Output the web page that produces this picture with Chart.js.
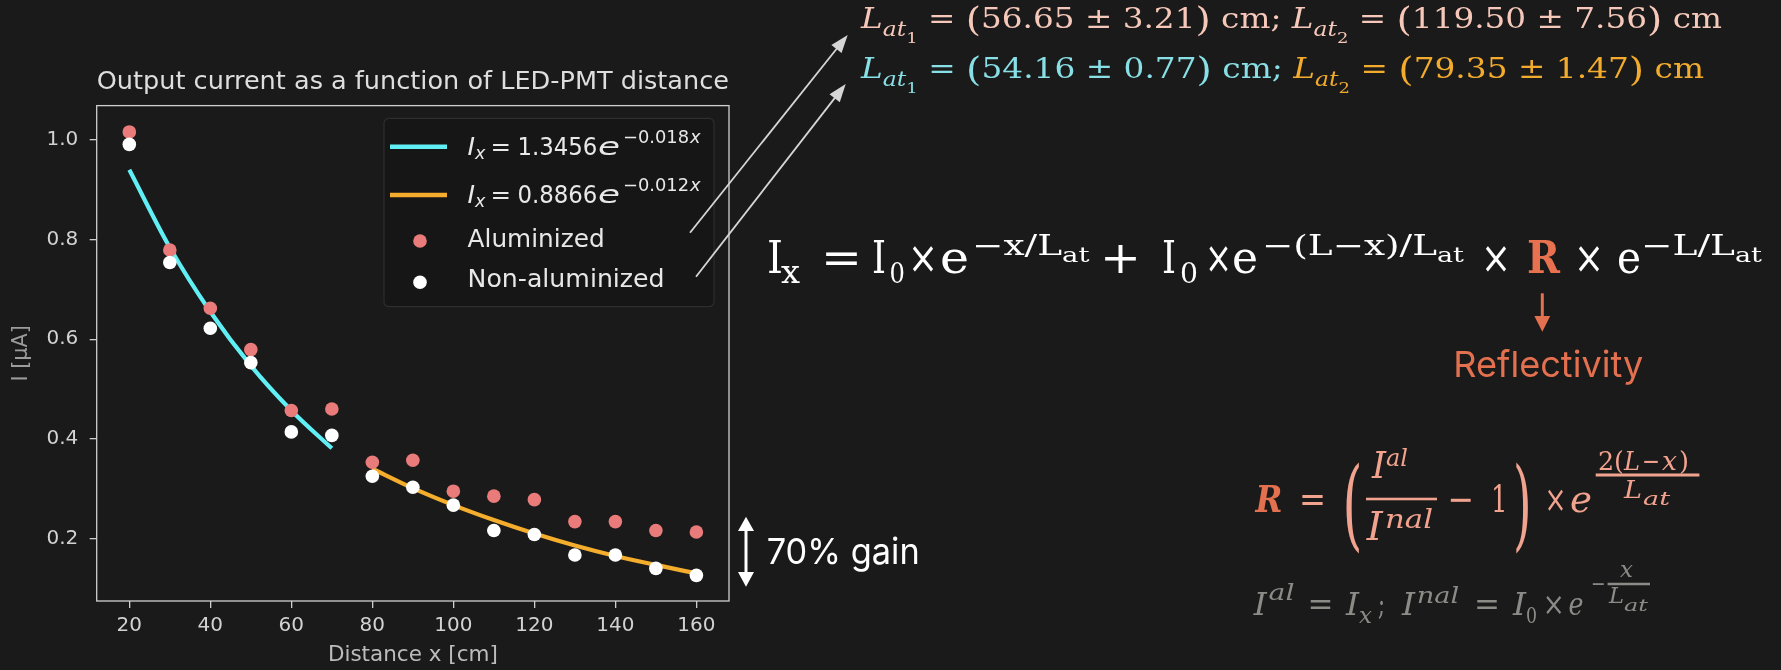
<!DOCTYPE html>
<html>
<head>
<meta charset="utf-8">
<script src="https://cdn.jsdelivr.net/npm/chart.js@4.4.0/dist/chart.umd.min.js"></script>
<style>
html,body{margin:0;padding:0;background:#1a1a1a;width:1781px;height:670px;overflow:hidden;}
#wrap{position:relative;width:1781px;height:670px;}
#c{position:absolute;left:0;top:0;}
#ov{position:absolute;left:0;top:0;pointer-events:none;}
</style>
</head>
<body>
<div id="wrap">
<canvas id="c" width="760" height="670"></canvas>
<svg id="ov" width="1781" height="670" xmlns="http://www.w3.org/2000/svg"></svg>
</div>
<script>
// ---------------- DATA ----------------
const distances      = [20, 30, 40, 50, 60, 70, 80, 90, 100, 110, 120, 130, 140, 150, 160];
const aluminized     = [1.016, 0.779, 0.662, 0.579, 0.457, 0.460, 0.353, 0.357, 0.295, 0.285, 0.278, 0.234, 0.234, 0.216, 0.213];
const nonAluminized  = [0.991, 0.754, 0.622, 0.553, 0.414, 0.407, 0.325, 0.303, 0.267, 0.216, 0.208, 0.167, 0.167, 0.140, 0.126];
// fitted curves
const fit1X = [20, 30, 40, 50, 60, 70];
const fit1Y = [0.940, 0.784, 0.655, 0.547, 0.457, 0.381];
const fit2X = [80, 90, 100, 110, 120, 130, 140, 150, 160];
const fit2Y = [0.340, 0.301, 0.267, 0.237, 0.210, 0.186, 0.165, 0.147, 0.130];
const xTicks = [20, 40, 60, 80, 100, 120, 140, 160];
const yTicks = [0.2, 0.4, 0.6, 0.8, 1.0];
const chartTitle = 'Output current as a function of LED-PMT distance';
const xLabel = 'Distance x [cm]';
const yLabel = 'I [\u03BCA]';
const seriesNames = ['Aluminized', 'Non-aluminized'];

// ---------------- CHART ----------------
const SANS = "'DejaVu Sans', sans-serif";
const frameColor = '#cfcfcf';
const framePlugin = {
  id: 'frame',
  afterDraw(chart) {
    const a = chart.chartArea, c = chart.ctx;
    c.save();
    c.strokeStyle = frameColor;
    c.lineWidth = 1.3;
    c.strokeRect(a.left, a.top, a.right - a.left, a.bottom - a.top);
    c.restore();
  }
};
const pts = (xs, ys) => xs.map((x, i) => ({x: x, y: ys[i]}));

new Chart(document.getElementById('c'), {
  type: 'scatter',
  data: {
    datasets: [
      {label: seriesNames[1], data: pts(distances, nonAluminized), backgroundColor: '#ffffff',
       pointRadius: 6.8, borderWidth: 0, order: 0},
      {label: seriesNames[0], data: pts(distances, aluminized), backgroundColor: '#ea7b7b',
       pointRadius: 6.8, borderWidth: 0, order: 1},
      {label: 'fit1', type: 'line', data: pts(fit1X, fit1Y), borderColor: '#60eff4', borderWidth: 4.2,
       pointRadius: 0, cubicInterpolationMode: 'monotone', fill: false, showLine: true, order: 2},
      {label: 'fit2', type: 'line', data: pts(fit2X, fit2Y), borderColor: '#f4ad2c', borderWidth: 4.2,
       pointRadius: 0, cubicInterpolationMode: 'monotone', fill: false, showLine: true, order: 3}
    ]
  },
  options: {
    responsive: false, animation: false, devicePixelRatio: 1,
    layout: {padding: {left: 0, right: 31, top: 0, bottom: 0}},
    plugins: {
      legend: {display: false}, tooltip: {enabled: false},
      title: {display: true, text: chartTitle, color: '#dedede', fullSize: false,
              font: {family: SANS, size: 25.6, weight: 'normal'}, padding: {top: 67.1, bottom: 7.8}}
    },
    scales: {
      x: {
        type: 'linear', min: 11.95, max: 168.05,
        afterBuildTicks: s => { s.ticks = xTicks.map(v => ({value: v})); },
        afterFit: s => { s.height = 69; },
        grid: {drawOnChartArea: false, drawTicks: true, tickLength: 7, color: frameColor, lineWidth: 1.3},
        border: {display: false},
        ticks: {color: '#d2d2d2', font: {family: SANS, size: 20}, padding: 5.5, maxRotation: 0,
                callback: v => String(v)},
        title: {display: true, text: xLabel, color: '#bcbcbc', font: {family: SANS, size: 21.5},
                padding: {top: 0, bottom: 2.1}}
      },
      y: {
        type: 'linear', min: 0.0746, max: 1.0688,
        afterBuildTicks: s => { s.ticks = yTicks.map(v => ({value: v})); },
        afterFit: s => { s.width = 96.7; },
        grid: {drawOnChartArea: false, drawTicks: true, tickLength: 7, color: frameColor, lineWidth: 1.3},
        border: {display: false},
        ticks: {color: '#d2d2d2', font: {family: SANS, size: 20}, padding: 11.4,
                callback: v => v.toFixed(1)},
        title: {display: true, text: yLabel, color: '#9c9c9c', font: {family: SANS, size: 20.8},
                padding: {top: 9.5, bottom: 0}}
      }
    }
  },
  plugins: [framePlugin]
});

// ---------------- ANNOTATIONS (SVG text) ----------------
const NS = 'http://www.w3.org/2000/svg';
const svg = document.getElementById('ov');
const SERIF = "'DejaVu Serif', 'Liberation Serif', serif";
const INTER = "Inter, 'Noto Sans', sans-serif";
function el(name, attrs, parent) {
  const e = document.createElementNS(NS, name);
  for (const k in attrs) e.setAttribute(k, attrs[k]);
  (parent || svg).appendChild(e);
  return e;
}
// token: [text, x, width, baseline, size, style, colour, family]
function tok(t) {
  const [s, x, w, y, size, st, col, fam] = t;
  const e = el('text', {x: x, y: y, 'font-size': size, 'font-family': fam || SERIF, fill: col});
  if (st && st.includes('i')) e.setAttribute('font-style', 'italic');
  if (st && st.includes('b')) e.setAttribute('font-weight', 'bold');
  if (w) { e.setAttribute('textLength', w); e.setAttribute('lengthAdjust', 'spacingAndGlyphs'); }
  e.textContent = s;
}
// rich line: segments [text, style, scale, baselineOffset, colour]
function rich(x, y, size, total, segs) {
  const t = el('text', {x: x, y: y, 'font-size': size, 'font-family': SERIF,
                        textLength: total, lengthAdjust: 'spacingAndGlyphs'});
  let cur = 0;
  segs.forEach(([s, st, sc, off, col]) => {
    const ts = el('tspan', {dy: off - cur, 'font-size': size * sc, fill: col}, t);
    if (st.includes('i')) ts.setAttribute('font-style', 'italic');
    ts.textContent = s;
    cur = off;
  });
}
function bar(x1, x2, y, h, col) { el('rect', {x: x1, y: y - h / 2, width: x2 - x1, height: h, fill: col}); }
function arrowLine(x1, y1, x2, y2, col, lw, hl, hw) {
  const dx = x2 - x1, dy = y2 - y1, L = Math.hypot(dx, dy), ux = dx / L, uy = dy / L;
  const bx = x2 - ux * hl, by = y2 - uy * hl;
  el('line', {x1: x1, y1: y1, x2: bx + ux * 1, y2: by + uy * 1, stroke: col, 'stroke-width': lw});
  el('polygon', {points: `${x2},${y2} ${bx - uy * hw / 2},${by + ux * hw / 2} ${bx + uy * hw / 2},${by - ux * hw / 2}`, fill: col});
}

// legend box
el('rect', {x: 384, y: 118.3, width: 330, height: 188.4, rx: 5, fill: '#161616', stroke: '#2e2e2e', 'stroke-width': 1.2});
el('line', {x1: 390, y1: 146.7, x2: 447, y2: 146.7, stroke: '#60eff4', 'stroke-width': 4.5});
el('line', {x1: 390, y1: 195, x2: 447, y2: 195, stroke: '#f4ad2c', 'stroke-width': 4.5});
el('circle', {cx: 420, cy: 241, r: 6.8, fill: '#ea7b7b'});
el('circle', {cx: 420, cy: 282.3, r: 6.8, fill: '#ffffff'});
const LC = '#e8e8e8';
[
  ['I', 467.6, 0, 155, 25.5, 'i', LC, SANS], ['x', 475, 0, 159, 17.5, 'i', LC, SANS],
  ['=', 490.5, 20.5, 155, 25.5, '', LC, SANS], ['1.3456', 517.4, 80, 155, 25.5, '', LC, SANS],
  ['e', 598, 22, 155, 25.5, 'i', LC, SANS],
  ['\u22120.018', 623, 66, 143.3, 17.5, '', LC, SANS], ['x', 690, 10.6, 143.3, 17.5, 'i', LC, SANS],
  ['I', 467.6, 0, 203, 25.5, 'i', LC, SANS], ['x', 475, 0, 207, 17.5, 'i', LC, SANS],
  ['=', 490.5, 20.5, 203, 25.5, '', LC, SANS], ['0.8866', 517.4, 80, 203, 25.5, '', LC, SANS],
  ['e', 598, 22, 203, 25.5, 'i', LC, SANS],
  ['\u22120.012', 623, 66, 191.3, 17.5, '', LC, SANS], ['x', 690, 10.6, 191.3, 17.5, 'i', LC, SANS],
  [seriesNames[0], 467.6, 137, 247.3, 25.5, '', LC, SANS],
  [seriesNames[1], 467.6, 197, 287.3, 25.5, '', LC, SANS]
].forEach(tok);

// arrows from legend to the attenuation lengths
arrowLine(690, 232.7, 847.7, 35, '#d6d6d6', 1.8, 18, 13);
arrowLine(696, 276.7, 845.7, 84, '#d6d6d6', 1.8, 18, 13);

// attenuation lengths
const P1 = '#f6c8ba', CY = '#88dfe5', OR = '#f2ab2c';
function latLine(y, w, c1, c2, a, b, c, d) {
  rich(861, y, 28, w, [
    ['L', 'i', 1, 0, c1], ['at', 'i', 0.72, 8, c1], ['1', '', 0.55, 14.5, c1],
    [' = ', '', 1, 0, c1], ['(', '', 1.2, 3, c1], [a + ' \u00B1 ' + b, '', 1, 0, c1], [')', '', 1.2, 3, c1],
    [' cm; ', '', 1, 0, c1],
    ['L', 'i', 1, 0, c2], ['at', 'i', 0.72, 8, c2], ['2', '', 0.55, 14.5, c2],
    [' = ', '', 1, 0, c2], ['(', '', 1.2, 3, c2], [c + ' \u00B1 ' + d, '', 1, 0, c2], [')', '', 1.2, 3, c2],
    [' cm', '', 1, 0, c2]
  ]);
}
latLine(28.3, 861, P1, P1, '56.65', '3.21', '119.50', '7.56');
latLine(78.3, 843, CY, OR, '54.16', '0.77', '79.35', '1.47');

// main formula
const W = '#ffffff', RR = '#e8724f';
[
  ['I', 767, 16, 273, 45, '', W], ['x', 781, 19, 283, 31, '', W],
  ['=', 821, 41, 273, 45, '', W],
  ['I', 872, 14, 273, 45, '', W], ['0', 889.6, 15.4, 283, 28, '', W],
  ['\u00D7', 908, 30, 273, 45, '', W], ['e', 940, 29, 273, 45, '', W],
  ['\u2212x/L', 972, 90, 255, 28, '', W], ['at', 1062, 27.5, 261.7, 20, '', W],
  ['+', 1100, 41, 273, 45, '', W],
  ['I', 1162, 14, 273, 45, '', W], ['0', 1180, 18, 283, 28, '', W],
  ['\u00D7', 1205, 27, 273, 45, '', W], ['e', 1232, 26, 273, 45, '', W],
  ['\u2212(L\u2212x)/L', 1262, 175, 255, 28, '', W], ['at', 1437, 27, 261.7, 20, '', W],
  ['\u00D7', 1481, 30, 273, 45, '', W],
  ['R', 1527, 33, 273, 45, 'b', RR],
  ['\u00D7', 1574, 30, 273, 45, '', W],
  ['e', 1617, 24, 273, 45, '', W],
  ['\u2212L/L', 1641, 94, 255, 28, '', W], ['at', 1735, 27, 261.7, 20, '', W]
].forEach(tok);

// reflectivity marker
el('line', {x1: 1542.3, y1: 293.3, x2: 1542.3, y2: 318, stroke: '#e3704f', 'stroke-width': 3});
el('polygon', {points: '1534.4,316 1550.2,316 1542.3,331.7', fill: '#e3704f'});
tok(['Reflectivity', 1453.3, 190, 376.7, 36, '', '#e3704f', INTER]);

// gain marker
el('line', {x1: 746, y1: 529, x2: 746, y2: 574, stroke: '#ffffff', 'stroke-width': 3});
el('polygon', {points: '738,531 754,531 746,516.7', fill: '#ffffff'});
el('polygon', {points: '738,572 754,572 746,586.7', fill: '#ffffff'});
tok(['70% gain', 766.7, 153, 564, 36, '', '#ffffff', INTER]);

// reflectivity formula
const S = '#f2a38f';
[
  ['R', 1255.6, 27, 511.7, 38, 'bi', '#e3704f'],
  ['=', 1299, 27, 511.7, 38, '', S],
  ['(', 1342.6, 20, 538, 100, '', S],
  ['I', 1372, 14, 478, 38, 'i', S], ['al', 1386, 22, 466, 24, 'i', S],
  ['I', 1366.7, 16, 540, 40, 'i', S], ['nal', 1385, 48, 528, 26, 'i', S],
  ['\u2212', 1447.5, 26.5, 511.7, 38, '', S],
  ['1', 1491, 16.5, 511.7, 38, '', S],
  [')', 1513, 18.6, 538, 100, '', S],
  ['\u00D7', 1544.6, 22, 511.7, 38, '', S],
  ['e', 1570, 22, 511.7, 38, 'i', S],
  ['2(', 1598, 26, 470, 26, '', S], ['L', 1624, 16, 470, 26, 'i', S], ['\u2212', 1642, 18, 470, 26, '', S],
  ['x', 1662, 15, 470, 26, 'i', S], [')', 1679, 10, 470, 26, '', S],
  ['L', 1624, 18, 498, 24, 'i', S], ['at', 1643, 27, 505, 18, 'i', S]
].forEach(tok);
bar(1366, 1437, 499, 2.6, S);
bar(1595.7, 1699.4, 475, 3, S);

// definitions line
const G = '#8b8b87';
[
  ['I', 1253.7, 13, 615, 32, 'i', G], ['al', 1268.5, 26, 600, 22, 'i', G],
  ['=', 1307.5, 26, 615, 32, '', G],
  ['I', 1346, 13, 615, 32, 'i', G], ['x', 1359, 13, 623, 22, 'i', G], [';', 1378, 7, 615, 32, '', G],
  ['I', 1402, 13, 615, 32, 'i', G], ['nal', 1416.7, 42.6, 603, 22, 'i', G],
  ['=', 1474, 26, 615, 32, '', G],
  ['I', 1513, 13, 615, 32, 'i', G], ['0', 1526, 11, 623, 22, '', G],
  ['\u00D7', 1542.7, 22, 615, 32, '', G], ['e', 1568.6, 15, 615, 32, 'i', G],
  ['\u2212', 1591, 14.6, 591, 22, '', G],
  ['x', 1620, 13, 576.7, 22, 'i', G],
  ['L', 1609, 15, 603, 22, 'i', G], ['at', 1624, 24, 611, 16, 'i', G]
].forEach(tok);
bar(1607.6, 1650, 584, 2.5, G);
</script>
</body>
</html>
